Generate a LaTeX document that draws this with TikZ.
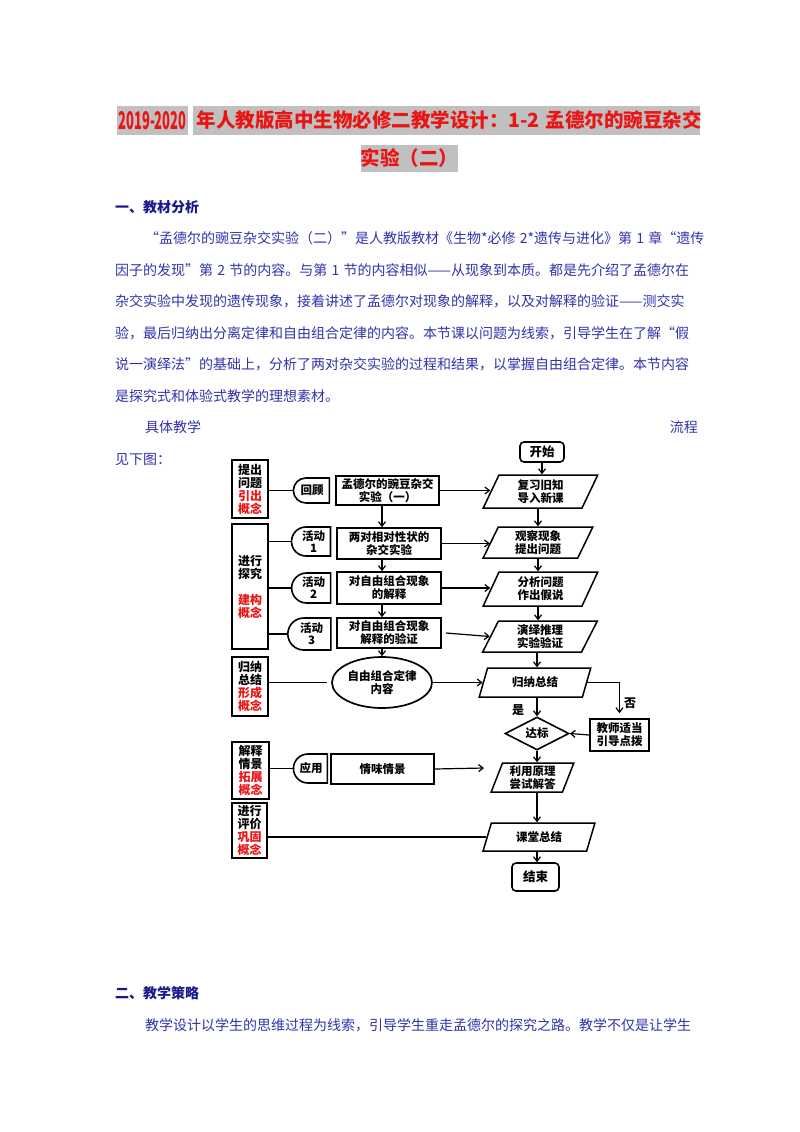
\documentclass[tikz,border=0pt]{standalone}
\usepackage{fontspec}
\usepackage{graphicx}
\setmainfont{Noto Sans CJK SC}
\usetikzlibrary{shapes.geometric,shapes.misc,arrows.meta}
\XeTeXlinebreaklocale "zh"
\XeTeXlinebreakskip=0pt plus 3pt
\definecolor{bodyblue}{RGB}{50,50,170}
\definecolor{headblue}{RGB}{25,25,140}
\definecolor{redtxt}{RGB}{235,20,20}
\definecolor{hlgray}{RGB}{192,192,192}
\newcommand{\rd}[1]{\textcolor{redtxt}{#1}}
\newcommand{\gapsp}{\hspace{0.3em}}
\tikzset{
  x=1pt, y=-1pt,
  titlebox/.style={fill=hlgray, inner sep=0, text=redtxt, font=\fontsize{19.5}{20}\selectfont\bfseries},
  bodyline/.style={anchor=west, inner sep=0, text=bodyblue, font=\fontsize{14}{14}\selectfont},
  headline/.style={anchor=west, inner sep=0, text=headblue, font=\fontsize{14}{14}\selectfont\bfseries},
  fc/.style={font=\fontsize{11.5}{13}\selectfont\bfseries, align=center, inner sep=0},
  lbox/.style={draw, line width=1.7pt, inner sep=0, align=center, minimum width=36pt, font=\fontsize{12}{13}\selectfont\bfseries},
  dshape/.style={fc, rounded rectangle, rounded rectangle right arc=none, draw, line width=1.6pt, font=\fontsize{11.5}{12}\selectfont\bfseries},
  mbox/.style={fc, draw, line width=1.7pt, minimum width=104pt},
  para/.style={fc, trapezium, trapezium left angle=70, trapezium right angle=110, trapezium stretches=true, draw, line width=1.5pt},
  term/.style={fc, draw, rounded corners=4pt, line width=1.6pt, font=\fontsize{12.5}{13}\selectfont\bfseries},
  arr/.style={line width=1.2pt, -{Straight Barb[length=4.5pt,width=7pt]}},
  ln/.style={line width=1.5pt},
  lbl/.style={font=\fontsize{12}{12}\selectfont\bfseries, inner sep=0}
}
\begin{document}
\begin{tikzpicture}
\useasboundingbox (0,0) rectangle (800,1132);

% ---------- title ----------
\node[titlebox, minimum width=71pt, minimum height=29pt] (ta) at (152.5,120.5) {\resizebox{68pt}{1.25\height}{2019-2020}};
\node[titlebox, minimum width=507pt, minimum height=29pt] (tb) at (446.5,120.5) {\makebox[500pt][s]{年人教版高中生物必修二教学设计：1-2\gapsp 孟德尔的豌豆杂交}};
\node[titlebox, minimum width=95pt, minimum height=27pt] (tc) at (409.5,158.5) {实验（二）};

% ---------- text ----------
\node[headline] (h1) at (115,207) {一、教材分析};
\node[bodyline] (b1) at (145,238) {\makebox[553pt][s]{“孟德尔的豌豆杂交实验（二）”是人教版教材《生物*必修\gapsp 2*遗传与进化》第\gapsp 1\gapsp 章“遗传}};
\node[bodyline] (b2) at (115,270) {\makebox[583pt][s]{因子的发现”第\gapsp 2\gapsp 节的内容。与第\gapsp 1\gapsp 节的内容相似——从现象到本质。都是先介绍了孟德尔在}};
\node[bodyline] (b3) at (115,301.5) {\makebox[583pt][s]{杂交实验中发现的遗传现象，接着讲述了孟德尔对现象的解释，以及对解释的验证——测交实}};
\node[bodyline] (b4) at (115,333) {\makebox[583pt][s]{验，最后归纳出分离定律和自由组合定律的内容。本节课以问题为线索，引导学生在了解“假}};
\node[bodyline] (b5) at (115,364.5) {\makebox[583pt][s]{说一演绎法”的基础上，分析了两对杂交实验的过程和结果，以掌握自由组合定律。本节内容}};
\node[bodyline] (b6) at (115,396) {是探究式和体验式教学的理想素材。};
\node[bodyline] (b7) at (145,427) {具体教学};
\node[bodyline, anchor=east] (b8) at (698,427) {流程};
\node[bodyline] (b9) at (115,459) {见下图：};
\node[headline] (h2) at (115,993) {二、教学策略};
\node[bodyline] (b10) at (145,1025) {\makebox[553pt][s]{教学设计以学生的思维过程为线索，引导学生重走孟德尔的探究之路。教学不仅是让学生}};

% ---------- left boxes ----------
\node[lbox, minimum height=58pt] (L1) at (250,489) {提出\\问题\\\rd{引出}\\\rd{概念}};
\node[lbox, minimum height=125pt] (L2) at (250,586.5) {进行\\探究\\[13pt]\rd{建构}\\\rd{概念}};
\node[lbox, minimum height=59pt] (L3) at (250,686.5) {归纳\\总结\\\rd{形成}\\\rd{概念}};
\node[lbox, minimum height=57pt, minimum width=37pt] (L4) at (250.5,770.5) {解释\\情景\\\rd{拓展}\\\rd{概念}};
\node[lbox, minimum height=55pt, minimum width=35pt] (L5) at (249.5,830.5) {进行\\评价\\\rd{巩固}\\\rd{概念}};

% ---------- D shapes ----------
\node[dshape, minimum width=36pt, minimum height=25pt] (D1) at (312,490.5) {回顾};
\node[dshape, minimum width=39pt, minimum height=29pt] (D2) at (313.5,541.5) {活动\\1};
\node[dshape, minimum width=39pt, minimum height=30pt] (D3) at (313.5,588) {活动\\2};
\node[dshape, minimum width=43pt, minimum height=32pt] (D4) at (311.5,634) {活动\\3};
\node[dshape, minimum width=34pt, minimum height=29pt] (D5) at (311,768.5) {应用};

% ---------- middle column ----------
\node[mbox, minimum width=103pt, minimum height=29pt] (M1) at (387.5,490.5) {孟德尔的豌豆杂交\\实验（一）};
\node[mbox, minimum height=31pt] (M2) at (389,543.5) {两对相对性状的\\杂交实验};
\node[mbox, minimum height=32pt] (M3) at (389,588) {对自由组合现象\\的解释};
\node[mbox, minimum height=30pt] (M4) at (389,633) {对自由组合现象\\解释的验证};
\node[fc, ellipse, draw, line width=1.7pt, minimum width=100pt, minimum height=51pt] (E) at (382,682.5) {自由组合定律\\内容};
\node[mbox, minimum width=103pt, minimum height=30pt] (M5) at (382.5,769) {情味情景};

% ---------- right column ----------
\node[term, minimum width=44pt, minimum height=20pt] (S) at (542,452) {开始};
\node[para, minimum width=115pt, minimum height=33pt] (P1) at (540.5,491.5) {复习旧知\\导入新课};
\node[para, minimum width=110pt, minimum height=31pt] (P2) at (538,542.5) {观察现象\\提出问题};
\node[para, minimum width=115pt, minimum height=34pt] (P3) at (540.5,589) {分析问题\\作出假说};
\node[para, minimum width=115pt, minimum height=31pt] (P4) at (540,636.5) {演绎推理\\实验验证};
\node[para, minimum width=112pt, minimum height=29pt] (P5) at (535,682.5) {归纳总结};
\node[fc, diamond, draw, line width=1.6pt, aspect=2, minimum width=64pt, minimum height=33pt] (Dm) at (537,733.5) {达标};
\node[fc, draw, line width=1.7pt, minimum width=59pt, minimum height=32pt] (T) at (619.5,735) {教师适当\\引导点拨};
\node[para, minimum width=83pt, minimum height=29pt] (P6) at (532.5,777.5) {利用原理\\尝试解答};
\node[para, minimum width=112pt, minimum height=28pt] (P7) at (539,837) {课堂总结};
\node[term, minimum width=47pt, minimum height=28pt] (End) at (535.5,877) {结束};
\node[lbl] (yes) at (518,710) {是};
\node[lbl] (no) at (630,703) {否};
\coordinate (cx) at (538,0);
\coordinate (m5end) at (484,768);

% ---------- connectors: left ----------
\draw[ln] (L1.east |- D1.west) -- (D1.west);
\draw[ln] (L2.east |- D2.west) -- (D2.west);
\draw[ln] (L2.east |- D3.west) -- (D3.west);
\draw[ln, line width=2pt] (L2.east |- D4.west) -- (D4.west);
\draw[ln] (L3.east |- E.west) -- ([xshift=-4pt]E.west);
\draw[ln] (L4.east |- D5.west) -- (D5.west);
\draw[ln] (L5.east |- P7.west) -- (P7.west);

% ---------- connectors: middle ----------
\draw[arr] (M1.south -| E.center) -- (M2.north -| E.center);
\draw[arr] (M2.south -| E.center) -- (M3.north -| E.center);
\draw[arr] (M3.south -| E.center) -- (M4.north -| E.center);
\draw[arr] (M4.south -| E.center) -- (E.north);
\draw[arr] (M1.east) -- (M1.east -| P1.west);
\draw[arr] (M2.east) -- (M2.east -| P2.west);
\draw[arr] (M3.east) -- (M3.east -| P3.west);
\draw[arr] ([xshift=4pt]M4.east) -- (P4.west);
\draw[arr] (E.east) -- (E.east -| P5.west);
\draw[arr] (M5.east) -- (m5end);

% ---------- connectors: right ----------
\draw[arr] (S.south) -- (S.south |- P1.north);
\draw[arr] (P1.south -| cx) -- (P2.north -| cx);
\draw[arr] (P2.south -| cx) -- (P3.north -| cx);
\draw[arr] (P3.south -| cx) -- (P4.north -| cx);
\draw[arr] (P4.south -| Dm.north) -- (P5.north -| Dm.north);
\draw[arr] (P5.south -| Dm.north) -- (Dm.north);
\draw[arr] (P5.east) -| ([yshift=5pt]T.north);
\draw[arr] (T.west) -- (Dm.east);
\draw[arr] (Dm.south) -- (Dm.south |- P6.north);
\draw[arr] (P6.south -| Dm.south) -- (P7.north -| Dm.south);
\draw[arr] (P7.south -| Dm.south) -- (End.north -| Dm.south);
\end{tikzpicture}
\end{document}
